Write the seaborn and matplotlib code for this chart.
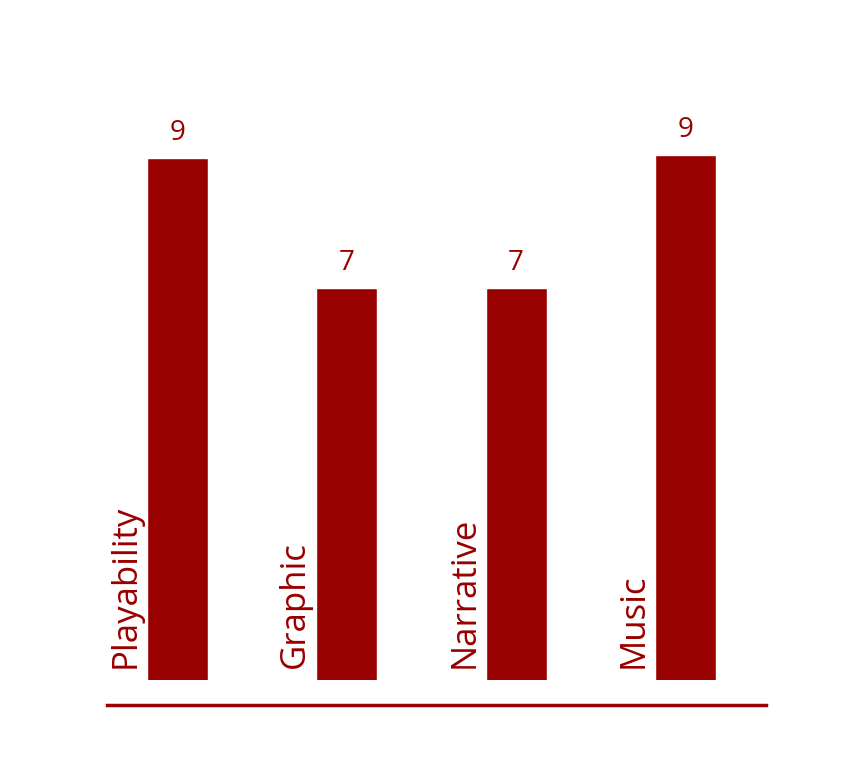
import matplotlib
matplotlib.use("Agg")
import matplotlib.pyplot as plt
import seaborn as sns
import pandas as pd

categories = ["Playability", "Graphic", "Narrative", "Music"]
scores = [9.0, 7.0, 7.0, 9.05]
value_labels = ["9", "7", "7", "9"]

COLOR = "#990000"

sns.set_theme(style="white")
plt.rcParams['font.family'] = ['Open Sans', 'DejaVu Sans']

df = pd.DataFrame({"category": categories, "score": scores})

fig = plt.figure(figsize=(8.61, 7.82), dpi=100)
ax = fig.add_axes([107/861, 1 - 680/782, 659/861, (680 - 60)/782])

sns.barplot(data=df, x="category", y="score", color=COLOR, saturation=1,
            width=0.36, ax=ax)

ax.set_ylim(1, 10.5)
ax.set_xlim(-0.416, 3.475)

for c in ax.containers:
    ax.bar_label(c, labels=value_labels, padding=8, color=COLOR, fontsize=20)

# category labels to the left of each bar
for patch, name in zip(ax.patches, categories):
    x_left = patch.get_x()
    ax.annotate(name, xy=(x_left, 1), xytext=(-3, 9), textcoords="offset points",
                rotation=90, ha="right", va="bottom", color=COLOR, fontsize=25)

ax.set_xticks([])
ax.set_yticks([])
ax.set_xlabel("")
ax.set_ylabel("")
for s in ["top", "left", "right"]:
    ax.spines[s].set_visible(False)
ax.spines["bottom"].set_position(("outward", 18))
ax.spines["bottom"].set_color(COLOR)
ax.spines["bottom"].set_linewidth(2.5)

fig.savefig("out.png", dpi=100, facecolor="white")
